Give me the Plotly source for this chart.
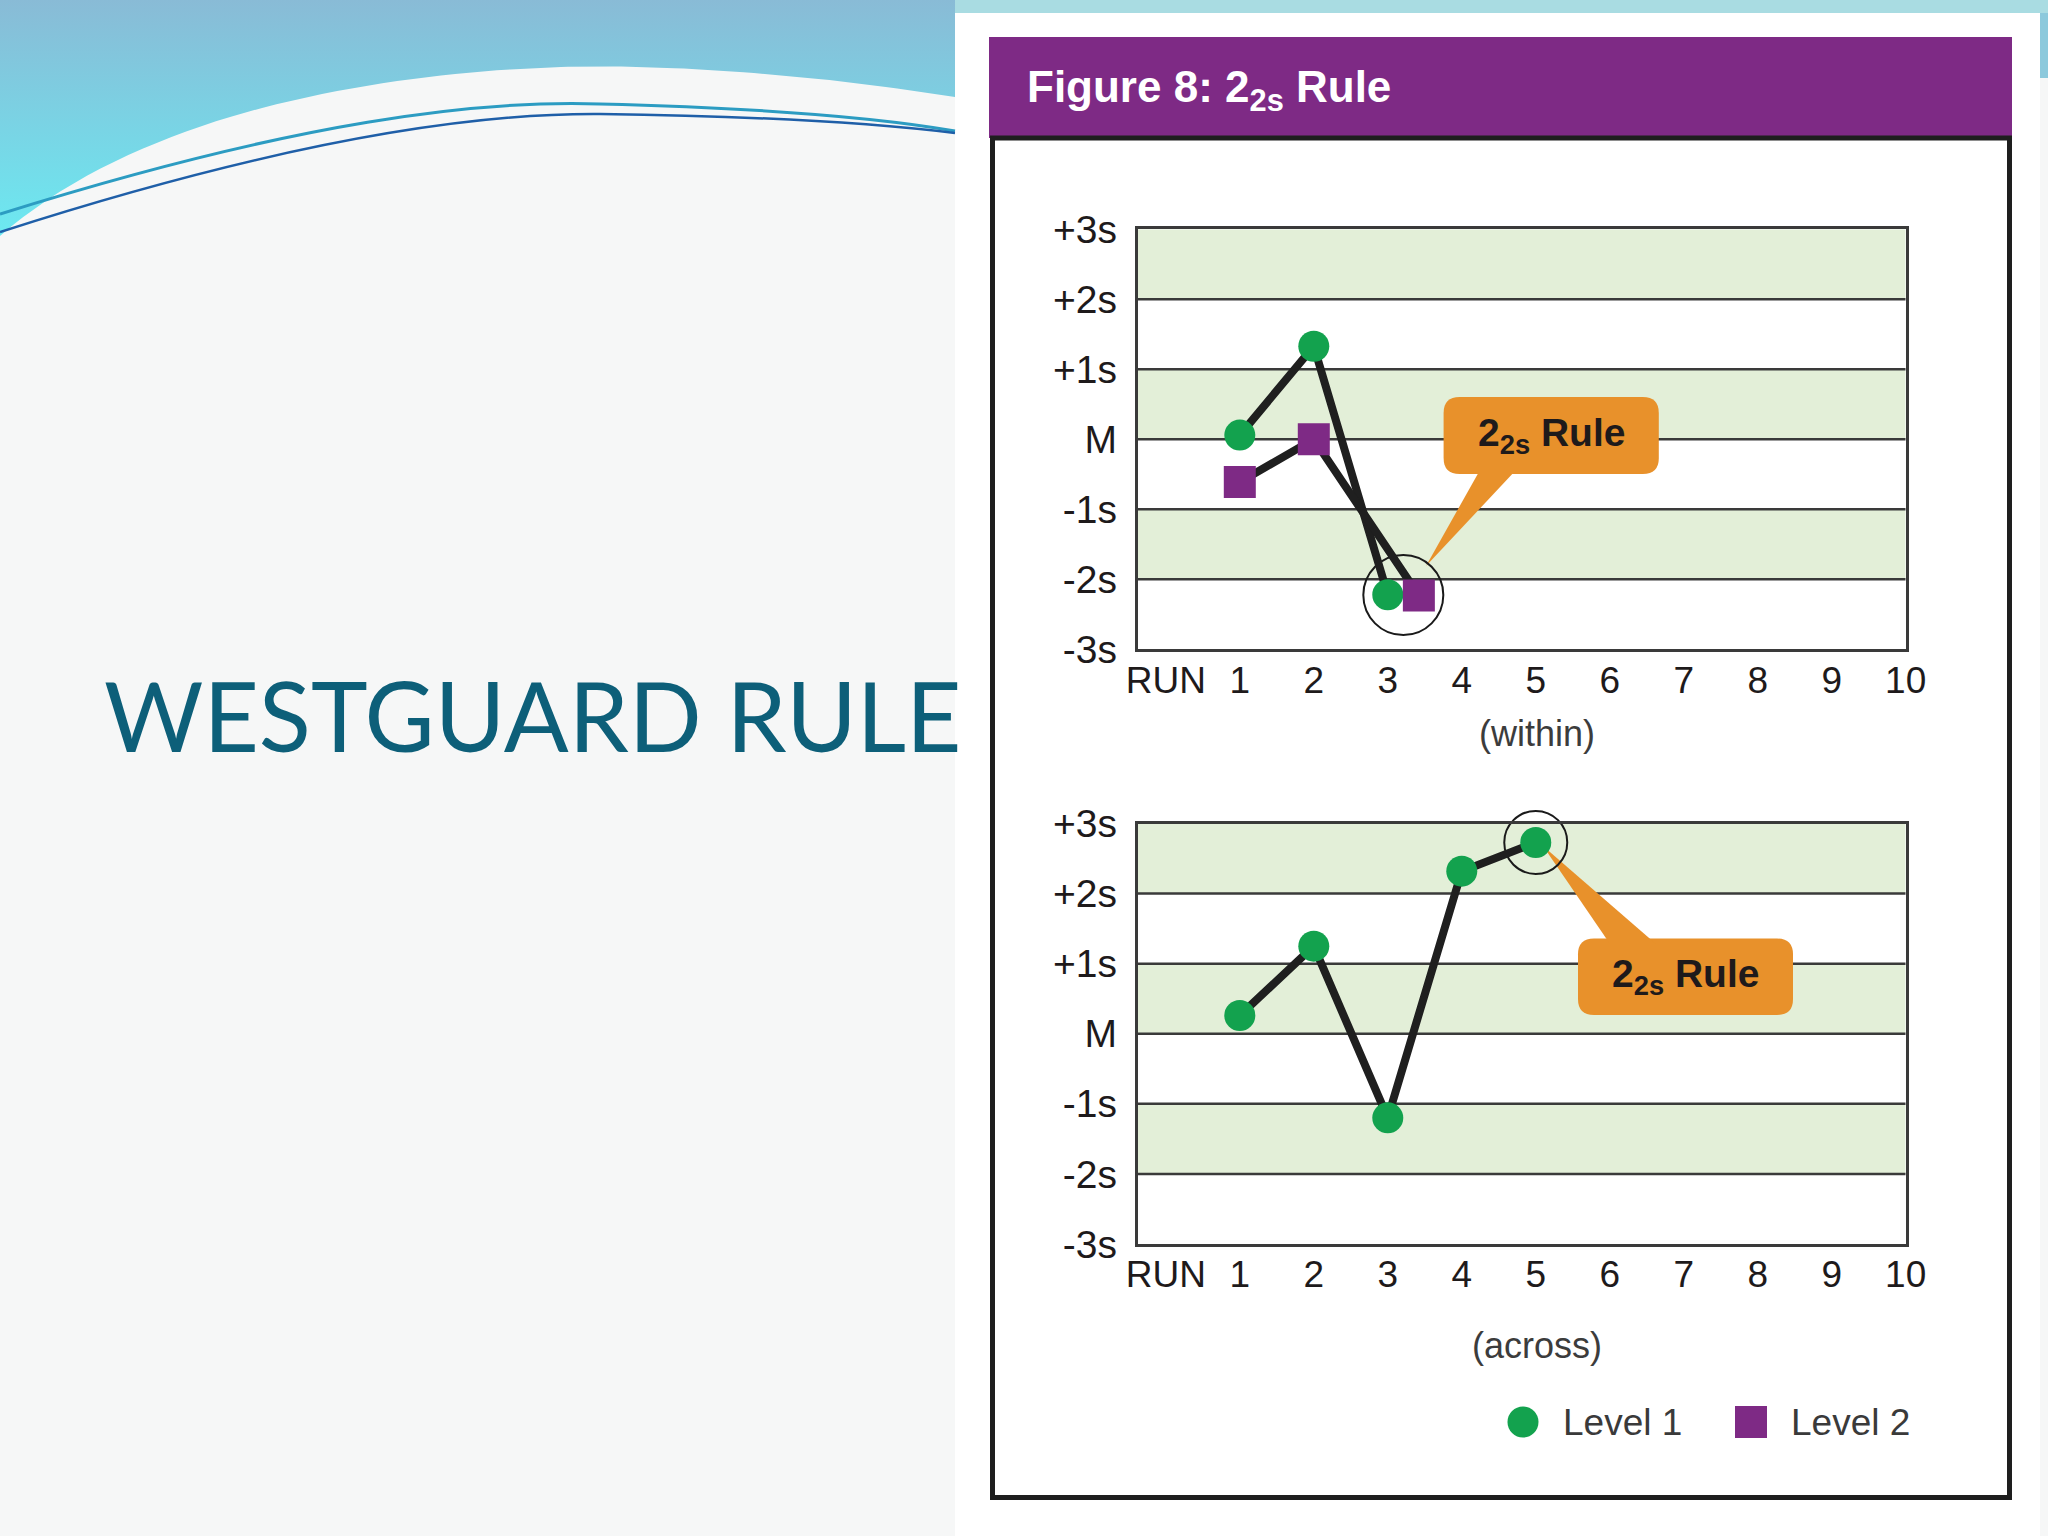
import plotly.graph_objects as go

# ---------------- data ----------------
runs_top_l1 = [1, 2, 3]
level1_top = [0.06, 1.33, -2.22]
runs_top_l2 = [1, 2, 3.42]
level2_top = [-0.61, 0.0, -2.23]

runs_bottom = [1, 2, 3, 4, 5]
level1_bottom = [0.26, 1.25, -1.20, 2.32, 2.73]

y_tick_vals = [3, 2, 1, 0, -1, -2, -3]
y_tick_text = ["+3s", "+2s", "+1s", "M", "-1s", "-2s", "-3s"]
x_tick_vals = list(range(0, 11))
x_tick_text = ["RUN"] + [str(i) for i in range(1, 11)]
band_ranges = [(2, 3), (0, 1), (-2, -1)]
grid_levels = [2, 1, 0, -1, -2]

# ---------------- geometry (pixels of the 2048x1536 page) ----------------
W, H = 2048, 1536
PLOT_L, PLOT_R = 1137.7, 1905.7
TOP_T, TOP_B = 229.3, 649.3
BOT_T, BOT_B = 823.5, 1244.0
X_RANGE = [-0.38, 10]
Y_RANGE = [-3, 3]

GREEN = "#13A24E"
PURPLE = "#7E2A85"
ORANGE = "#E8912B"
BAND = "#E3EFD8"
INK = "#1E1A1B"
FONT = "Liberation Sans"


def px(x):
    return x / W


def py(y):
    return 1 - y / H


def dx(p):
    return X_RANGE[0] + (p - PLOT_L) / (PLOT_R - PLOT_L) * (X_RANGE[1] - X_RANGE[0])


def dy_factory(t, b):
    def f(p):
        return Y_RANGE[1] - (p - t) / (b - t) * (Y_RANGE[1] - Y_RANGE[0])
    return f


dy_top = dy_factory(TOP_T, TOP_B)
dy_bot = dy_factory(BOT_T, BOT_B)


def rounded_box(x0p, y0p, x1p, y1p, r, fy):
    x0, x1 = dx(x0p), dx(x1p)
    top, bot = fy(y0p), fy(y1p)
    rx = dx(x0p + r) - x0
    ry = top - fy(y0p + r)
    return (f"M {x0+rx},{top} L {x1-rx},{top} Q {x1},{top} {x1},{top-ry} "
            f"L {x1},{bot+ry} Q {x1},{bot} {x1-rx},{bot} L {x0+rx},{bot} "
            f"Q {x0},{bot} {x0},{bot+ry} L {x0},{top-ry} Q {x0},{top} {x0+rx},{top} Z")


def tail(b1, b2, tip, fy):
    return (f"M {dx(b1[0])},{fy(b1[1])} L {dx(tip[0])},{fy(tip[1])} "
            f"L {dx(b2[0])},{fy(b2[1])} Z")


def ppath(cmds):
    out = []
    for c, pts in cmds:
        out.append(c + " " + " ".join(f"{px(a)},{py(b)}" for a, b in pts))
    return " ".join(out)


fig = go.Figure()

# ---------------- decoration: wave (pixel overlay axis) ----------------
def bez(p0, p1, p2, p3, n=40):
    pts = []
    for i in range(n + 1):
        t = i / n
        a = (1 - t) ** 3
        b = 3 * (1 - t) ** 2 * t
        c = 3 * (1 - t) * t ** 2
        d = t ** 3
        pts.append((a * p0[0] + b * p1[0] + c * p2[0] + d * p3[0],
                    a * p0[1] + b * p1[1] + c * p2[1] + d * p3[1]))
    return pts


wave = [(0, 0), (955, 0), (955, 97)]
wave += bez((955, 97), (800, 72), (650, 64), (561, 67))[1:]
wave += bez((561, 67), (400, 72), (150, 105), (0, 236))[1:]
wave += [(0, 0)]
fig.add_trace(go.Scatter(
    x=[p[0] for p in wave], y=[p[1] for p in wave], xaxis="x3", yaxis="y3",
    mode="lines", line=dict(width=0), fill="toself",
    fillgradient=dict(type="vertical", start=0, stop=236,
                      colorscale=[[0, "#89BBD6"], [1, "#6CE9F1"]]),
    hoverinfo="skip", showlegend=False))

# ---------------- data traces ----------------
fig.add_trace(go.Scatter(
    x=[(runs_top_l1[2] + runs_top_l2[2]) / 2], y=[(level1_top[2] + level2_top[2]) / 2],
    mode="markers", marker=dict(symbol="circle-open", size=80, color="#1a1a1a", line=dict(width=2)),
    xaxis="x", yaxis="y", cliponaxis=False, showlegend=False, hoverinfo="skip"))
fig.add_trace(go.Scatter(
    x=[runs_bottom[4]], y=[level1_bottom[4]],
    mode="markers", marker=dict(symbol="circle-open", size=63, color="#1a1a1a", line=dict(width=2)),
    xaxis="x2", yaxis="y2", cliponaxis=False, showlegend=False, hoverinfo="skip"))

fig.add_trace(go.Scatter(
    x=runs_top_l1, y=level1_top, mode="lines+markers", name="Level 1",
    line=dict(color="#1f1f1f", width=8),
    marker=dict(symbol="circle", size=31, color=GREEN, line=dict(width=0)),
    xaxis="x", yaxis="y", cliponaxis=False, showlegend=False))
fig.add_trace(go.Scatter(
    x=runs_top_l2, y=level2_top, mode="lines+markers", name="Level 2",
    line=dict(color="#1f1f1f", width=8),
    marker=dict(symbol="square", size=32, color=PURPLE, line=dict(width=0)),
    xaxis="x", yaxis="y", cliponaxis=False, showlegend=False))
fig.add_trace(go.Scatter(
    x=runs_bottom, y=level1_bottom, mode="lines+markers", name="Level 1",
    line=dict(color="#1f1f1f", width=8),
    marker=dict(symbol="circle", size=31, color=GREEN, line=dict(width=0)),
    xaxis="x2", yaxis="y2", cliponaxis=False, showlegend=False))

legend_labels = ["Level 1", "Level 2"]
legend_px = [(1523, 1422), (1751, 1422)]
fig.add_trace(go.Scatter(
    x=[legend_px[0][0]], y=[legend_px[0][1]], mode="markers", xaxis="x3", yaxis="y3",
    marker=dict(symbol="circle", size=31, color=GREEN, line=dict(width=0)),
    showlegend=False, hoverinfo="skip"))
fig.add_trace(go.Scatter(
    x=[legend_px[1][0]], y=[legend_px[1][1]], mode="markers", xaxis="x3", yaxis="y3",
    marker=dict(symbol="square", size=32, color=PURPLE, line=dict(width=0)),
    showlegend=False, hoverinfo="skip"))

# ---------------- shapes ----------------
shapes = []
shapes.append(dict(type="rect", xref="paper", yref="paper", x0=px(955), x1=1, y0=py(13), y1=1,
                   fillcolor="#A9DCE2", line=dict(width=0), layer="below"))
shapes.append(dict(type="rect", xref="paper", yref="paper", x0=px(2040), x1=1, y0=py(78), y1=py(13),
                   fillcolor="#8CC9DC", line=dict(width=0), layer="below"))
shapes.append(dict(type="rect", xref="paper", yref="paper", x0=px(955), x1=px(2040), y0=0, y1=py(13),
                   fillcolor="#FFFFFF", line=dict(width=0), layer="below"))
shapes.append(dict(type="rect", xref="paper", yref="paper", x0=px(989), x1=px(2012), y0=py(138), y1=py(37),
                   fillcolor=PURPLE, line=dict(width=0), layer="below"))
shapes.append(dict(type="rect", xref="paper", yref="paper", x0=px(992.5), x1=px(2009.5), y0=py(1497.5), y1=py(138),
                   fillcolor="rgba(0,0,0,0)", line=dict(width=5, color="#1E1E1E"), layer="below"))

for xa, ya in (("x", "y"), ("x2", "y2")):
    for lo, hi in band_ranges:
        shapes.append(dict(type="rect", xref=xa, yref=ya, x0=X_RANGE[0], x1=X_RANGE[1], y0=lo, y1=hi,
                           fillcolor=BAND, line=dict(width=0), layer="below"))
    for g in grid_levels:
        shapes.append(dict(type="line", xref=xa, yref=ya, x0=X_RANGE[0], x1=X_RANGE[1], y0=g, y1=g,
                           line=dict(width=2.5, color="#3A3A3A"), layer="below"))

shapes.append(dict(type="path", xref="x", yref="y", layer="below",
                   path=rounded_box(1443.6, 397, 1658.8, 474, 16, dy_top),
                   fillcolor=ORANGE, line=dict(width=0)))
shapes.append(dict(type="path", xref="x", yref="y", layer="below",
                   path=tail((1480, 470), (1516, 470), (1426, 566), dy_top),
                   fillcolor=ORANGE, line=dict(width=0)))
shapes.append(dict(type="path", xref="x2", yref="y2", layer="below",
                   path=rounded_box(1578, 938.5, 1793, 1015, 16, dy_bot),
                   fillcolor=ORANGE, line=dict(width=0)))
shapes.append(dict(type="path", xref="x2", yref="y2", layer="below",
                   path=tail((1610, 944), (1656, 944), (1543, 846), dy_bot),
                   fillcolor=ORANGE, line=dict(width=0)))

shapes.append(dict(type="path", xref="paper", yref="paper", layer="above",
                   path=ppath([("M", [(0, 214)]), ("C", [(300, 120), (480, 100), (600, 104)]),
                               ("C", [(760, 108), (880, 118), (955, 131)])]),
                   line=dict(color="#2C9CC2", width=3)))
shapes.append(dict(type="path", xref="paper", yref="paper", layer="above",
                   path=ppath([("M", [(0, 232)]), ("C", [(280, 142), (470, 113), (600, 114)]),
                               ("C", [(760, 116), (880, 124), (955, 133)])]),
                   line=dict(color="#1F5FA8", width=2.5)))

# ---------------- annotations ----------------
ann = []
ann.append(dict(text="WESTGUARD RULE", xref="paper", yref="paper", x=px(102), y=py(714),
                xanchor="left", yanchor="middle", showarrow=False,
                font=dict(family="Lato", size=96, color="#0D5F79")))
ann.append(dict(text="<b>Figure 8: 2<sub>2s</sub> Rule</b>", xref="paper", yref="paper",
                x=px(1025), y=py(90), xanchor="left", yanchor="middle", showarrow=False,
                font=dict(family=FONT, size=44, color="#FFFFFF")))
ann.append(dict(text="(within)", xref="paper", yref="paper", x=px(1537), y=py(734),
                xanchor="center", yanchor="middle", showarrow=False,
                font=dict(family=FONT, size=36, color="#3C3C3C")))
ann.append(dict(text="(across)", xref="paper", yref="paper", x=px(1537), y=py(1345),
                xanchor="center", yanchor="middle", showarrow=False,
                font=dict(family=FONT, size=36, color="#3C3C3C")))
ann.append(dict(text="<b>2<sub>2s</sub> Rule</b>", xref="x", yref="y",
                x=dx((1443.6 + 1658.8) / 2), y=dy_top((397 + 474) / 2),
                xanchor="center", yanchor="middle", showarrow=False,
                font=dict(family=FONT, size=39, color=INK)))
ann.append(dict(text="<b>2<sub>2s</sub> Rule</b>", xref="x2", yref="y2",
                x=dx((1578 + 1793) / 2), y=dy_bot((938.5 + 1015) / 2),
                xanchor="center", yanchor="middle", showarrow=False,
                font=dict(family=FONT, size=39, color=INK)))
for lab, (lx, ly) in zip(legend_labels, legend_px):
    ann.append(dict(text=lab, xref="paper", yref="paper", x=px(lx + 38), y=py(ly),
                    xanchor="left", yanchor="middle", showarrow=False,
                    font=dict(family=FONT, size=37, color="#3A3A3A")))

# ---------------- axes ----------------
xdom = [px(PLOT_L), px(PLOT_R)]
common_x = dict(range=X_RANGE, domain=xdom, tickmode="array", tickvals=x_tick_vals, ticktext=x_tick_text,
                showgrid=False, zeroline=False, showline=True, mirror=True, linecolor="#3A3A3A",
                linewidth=3, ticks="", ticklabelstandoff=-4, automargin=False,
                tickfont=dict(family=FONT, size=37, color=INK), fixedrange=True)
common_y = dict(range=Y_RANGE, tickmode="array", tickvals=y_tick_vals, ticktext=y_tick_text,
                showgrid=False, zeroline=False, showline=True, mirror=True, linecolor="#3A3A3A",
                linewidth=3, ticks="", ticklabelstandoff=10, automargin=False,
                tickfont=dict(family=FONT, size=39, color=INK), fixedrange=True)

fig.update_layout(
    width=W, height=H, autosize=False,
    margin=dict(l=0, r=0, t=0, b=0, pad=0, autoexpand=False),
    paper_bgcolor="#F6F7F7", plot_bgcolor="rgba(0,0,0,0)",
    showlegend=False,
    xaxis=dict(common_x, anchor="y"),
    yaxis=dict(common_y, anchor="x", domain=[py(TOP_B), py(TOP_T)]),
    xaxis2=dict(common_x, anchor="y2"),
    yaxis2=dict(common_y, anchor="x2", domain=[py(BOT_B), py(BOT_T)]),
    xaxis3=dict(domain=[0, 1], range=[0, W], visible=False, anchor="y3", fixedrange=True, automargin=False),
    yaxis3=dict(domain=[0, 1], range=[H, 0], visible=False, anchor="x3", fixedrange=True, automargin=False),
    shapes=shapes, annotations=ann,
)

fig.write_html(
    "out.html",
    config={"displayModeBar": False, "responsive": False},
    post_script="document.body.style.margin='0';document.body.style.padding='0';"
                "document.body.style.overflow='hidden';document.documentElement.style.overflow='hidden';",
)
